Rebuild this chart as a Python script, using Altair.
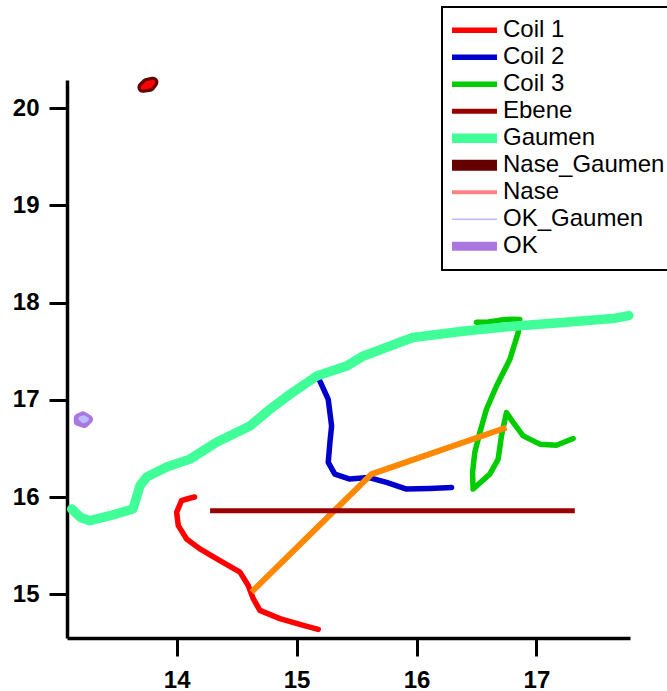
import altair as alt
import pandas as pd

FONT = "Liberation Sans"

# Trajectories (x, y) per series
coil1_x = [14.15, 14.10, 14.04, 14.00, 14.014, 14.083, 14.194, 14.361, 14.528, 14.597, 14.639, 14.694, 14.861, 15.056, 15.181]
coil1_y = [16.00, 15.985, 15.962, 15.843, 15.706, 15.569, 15.467, 15.347, 15.228, 15.09, 14.954, 14.834, 14.749, 14.680, 14.639]

coil2_x = [15.194, 15.264, 15.292, 15.278, 15.264, 15.319, 15.444, 15.597, 15.75, 15.917, 16.111, 16.292]
coil2_y = [17.194, 17.005, 16.731, 16.561, 16.356, 16.236, 16.185, 16.202, 16.151, 16.082, 16.089, 16.099]

coil3_x = [16.50, 16.60, 16.70, 16.80, 16.861, 16.847, 16.778, 16.667, 16.583, 16.528, 16.486, 16.467, 16.472,
           16.611, 16.681, 16.708, 16.75, 16.806, 16.889, 17.028, 17.167, 17.306]
coil3_y = [17.798, 17.80, 17.82, 17.83, 17.826, 17.689, 17.415, 17.142, 16.903, 16.664, 16.459, 16.253, 16.082,
           16.236, 16.390, 16.629, 16.869, 16.767, 16.629, 16.544, 16.533, 16.602]

ebene_x = [14.279, 17.32]
ebene_y = [15.86, 15.86]

gaumen_x = [13.125, 13.20, 13.277, 13.444, 13.636, 13.694, 13.75, 13.917, 14.111, 14.333, 14.611, 14.778, 14.944,
            15.167, 15.417, 15.553, 15.969, 16.386, 16.803, 17.219, 17.636, 17.77]
gaumen_y = [15.877, 15.79, 15.757, 15.808, 15.877, 16.116, 16.205, 16.308, 16.390, 16.564, 16.731, 16.903, 17.056,
            17.244, 17.347, 17.449, 17.641, 17.706, 17.757, 17.795, 17.836, 17.867]

nase_gaumen_x = [13.719, 13.753, 13.803, 13.778, 13.719]
nase_gaumen_y = [20.215, 20.256, 20.267, 20.226, 20.215]

ok_x = [13.180, 13.219, 13.266, 13.230, 13.180, 13.180]
ok_y = [16.812, 16.835, 16.800, 16.757, 16.778, 16.812]

ok_gaumen_x = [13.20, 13.225, 13.25, 13.225, 13.20]
ok_gaumen_y = [16.806, 16.818, 16.800, 16.782, 16.806]

# Connecting segment (no legend entry)
link_x = [14.625, 15.625, 16.75]
link_y = [15.023, 16.236, 16.715]

series_names = ["Coil 1", "Coil 2", "Coil 3", "Ebene", "Gaumen", "Nase_Gaumen", "Nase", "OK_Gaumen", "OK"]
series_colors = ["#ff0000", "#0000cc", "#00cc00", "#990000", "#40ff99", "#660000", "#ff8080", "#bbbbff", "#aa77e0"]
series_widths = [5.5, 5.5, 5.5, 5, 9.5, 11, 4, 1.5, 9]

x_ticks = [14, 15, 16, 17]
y_ticks = [15, 16, 17, 18, 19, 20]


def frame(name, xs, ys):
    return pd.DataFrame({"series": name, "x": xs, "y": ys, "i": range(len(xs))})


main_df = pd.concat([
    frame("Coil 1", coil1_x, coil1_y),
    frame("Coil 2", coil2_x, coil2_y),
    frame("Coil 3", coil3_x, coil3_y),
    frame("Gaumen", gaumen_x, gaumen_y),
    frame("Nase_Gaumen", nase_gaumen_x, nase_gaumen_y),
    frame("OK", ok_x, ok_y),
    frame("OK_Gaumen", ok_gaumen_x, ok_gaumen_y),
], ignore_index=True)
ebene_df = frame("Ebene", ebene_x, ebene_y)
link_df = frame("link", link_x, link_y)

# Bright cores drawn inside the two small closed loops
core_df = pd.concat([
    frame("#ff0000", nase_gaumen_x, nase_gaumen_y),
    frame("#bbbbff", ok_gaumen_x, ok_gaumen_y),
], ignore_index=True)

x_enc = alt.X("x:Q", scale=alt.Scale(domain=[13.086, 17.78], nice=False, zero=False),
              axis=alt.Axis(values=x_ticks, format="d", title=None, grid=False))
y_enc = alt.Y("y:Q", scale=alt.Scale(domain=[14.55, 20.29], nice=False, zero=False),
              axis=alt.Axis(values=y_ticks, format="d", title=None, grid=False))

legend = alt.Legend(
    orient="none", legendX=375, legendY=-73, title=None,
    symbolType="M-4,0H4", symbolSize=156, symbolOffset=8,
    labelFont=FONT, labelFontSize=24, labelColor="black", labelOffset=19, labelLimit=400,
    strokeColor="black", fillColor="white", padding=10, rowPadding=0,
    clipHeight=26.6,
)
color_enc = alt.Color("series:N", scale=alt.Scale(domain=series_names, range=series_colors), legend=legend)
width_enc = alt.StrokeWidth("series:N", scale=alt.Scale(type="ordinal", domain=series_names, range=series_widths),
                            legend=legend)

main = alt.Chart(main_df).mark_line(strokeJoin="round", strokeCap="round").encode(
    x=x_enc, y=y_enc, color=color_enc, strokeWidth=width_enc, order="i:Q", detail="series:N"
)
link = alt.Chart(link_df).mark_line(color="#ff8800", strokeWidth=6).encode(
    x="x:Q", y="y:Q", order="i:Q"
)
ebene = alt.Chart(ebene_df).mark_line(strokeCap="butt").encode(
    x="x:Q", y="y:Q", color=color_enc, strokeWidth=width_enc, order="i:Q"
)
core = alt.Chart(core_df).mark_line(strokeWidth=4.5, strokeJoin="round", strokeCap="round").encode(
    x="x:Q", y="y:Q", order="i:Q", detail="series:N",
    stroke=alt.Stroke("series:N", scale=None, legend=None),
)

chart = alt.layer(main, link, ebene, core).properties(
    width=563, height=558,
    autosize=alt.AutoSizeParams(type="none"),
    padding={"left": 67, "top": 80, "right": 37, "bottom": 53},
).configure_view(stroke=None).configure_axis(
    domainColor="black", domainWidth=3.5, tickColor="black", tickWidth=3, tickSize=18,
    labelFont=FONT, labelFontSize=24, labelFontWeight="bold", labelColor="black", labelPadding=10,
).configure_axisX(labelPadding=12).configure_legend(strokeWidth=2)

chart.save("out.html", embed_options={"renderer": "svg", "actions": False})
